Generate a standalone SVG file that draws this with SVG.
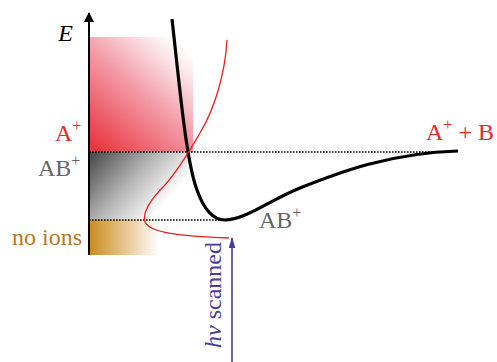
<svg xmlns="http://www.w3.org/2000/svg" width="497" height="362" viewBox="0 0 497 362">
<defs>
<linearGradient id="gRed" x1="0.1" y1="1" x2="0.9" y2="0">
<stop offset="0" stop-color="#ea3540"/>
<stop offset="0.5" stop-color="#f39aa5"/>
<stop offset="0.8" stop-color="#fbe0e5"/>
<stop offset="0.95" stop-color="#ffffff"/>
</linearGradient>
<linearGradient id="gGray" x1="0" y1="0.1" x2="1" y2="0.7">
<stop offset="0" stop-color="#4e4e4e"/>
<stop offset="0.45" stop-color="#b4b4b4"/>
<stop offset="0.85" stop-color="#ffffff"/>
</linearGradient>
<linearGradient id="gGold" x1="0" y1="0" x2="1" y2="0">
<stop offset="0" stop-color="#c98c1c"/>
<stop offset="0.5" stop-color="#e6c48b"/>
<stop offset="1" stop-color="#ffffff"/>
</linearGradient>
<marker id="axisHead" viewBox="0 0 10 10" refX="9" refY="5" markerWidth="10" markerHeight="10" markerUnits="userSpaceOnUse" orient="auto">
<path d="M0,0 L10,5 L0,10 Z" fill="#000"/>
</marker>
<marker id="blueHead" viewBox="0 0 10 6" refX="9" refY="3" markerWidth="11" markerHeight="7" markerUnits="userSpaceOnUse" orient="auto">
<path d="M0,0 L10,3 L0,6 Z" fill="#4b3c9c"/>
</marker>
</defs>
<style>
.lbl{font-family:"Liberation Serif","Times New Roman",serif;font-size:24px}
.sup{font-size:16px}
.dot{fill:none;stroke:#000;stroke-width:1.6;stroke-dasharray:1.6 1.4}
</style>
<g id="regions">
<rect id="ionRegion" x="89" y="37" width="104" height="115" fill="url(#gRed)"/>
<rect id="parentRegion" x="89" y="152" width="100" height="68" fill="url(#gGray)"/>
<rect id="noIonRegion" x="89" y="220" width="70" height="35" fill="url(#gGold)"/>
</g>
<g id="connectors">
<line x1="89" y1="152" x2="445" y2="152" class="dot"/>
<line x1="89" y1="220" x2="225" y2="220" class="dot"/>
<line id="energyAxis" x1="89" y1="255" x2="89" y2="13" stroke="#000" stroke-width="2" marker-end="url(#axisHead)"/>
<path id="potentialCurve" d="M172,19 C180,90 186,160 197,190 C203,207 212,220 225,220 C245,220 270,200 300,188 C340,172 390,153 458,151" fill="none" stroke="#000" stroke-width="3.2"/>
<path id="ionSignal" d="M227,40 C225,75 214,110 200,133 C190,150 180,168 165,185 C150,200 142,212 145,222 C150,233 180,236 229,238" fill="none" stroke="#e8201f" stroke-width="1.3"/>
<line id="photonArrow" x1="232" y1="362" x2="232" y2="238" stroke="#4b3c9c" stroke-width="1.6" marker-end="url(#blueHead)"/>
</g>
<g id="labels">
<text x="73" y="41" class="lbl" font-style="italic" text-anchor="end">E</text>
<text x="55" y="140.5" class="lbl" fill="#e8262a">A<tspan class="sup" dy="-10">+</tspan></text>
<text x="38" y="175.5" class="lbl" fill="#666666">AB<tspan class="sup" dy="-10">+</tspan></text>
<text x="12" y="245" class="lbl" fill="#b8782a">no ions</text>
<text x="426" y="140" class="lbl" fill="#e8262a">A<tspan class="sup" dy="-10">+</tspan><tspan dy="10"> + B</tspan></text>
<text x="259" y="227.5" class="lbl" fill="#666666">AB<tspan class="sup" dy="-10">+</tspan></text>
<text class="lbl" fill="#4b3c9c" transform="translate(221,348) rotate(-90)"><tspan font-style="italic">hν</tspan> scanned</text>
</g>
</svg>
